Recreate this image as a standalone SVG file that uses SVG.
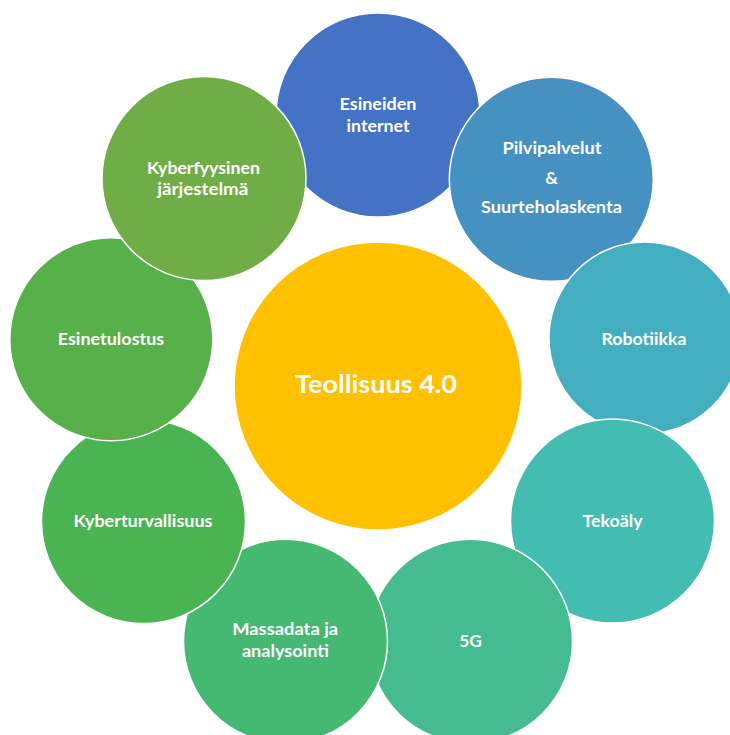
<svg xmlns="http://www.w3.org/2000/svg" width="730" height="735" viewBox="0 0 730 735">
<style>
.c{stroke:#ffffff;stroke-width:1.5}
.t{font-family:Lato,"Open Sans","Liberation Sans",sans-serif;font-weight:bold;fill:#ffffff;text-anchor:middle;font-size:17.5px}
.big{font-size:25px}
</style>
<rect width="730" height="735" fill="#ffffff"/>
<g id="node-teollisuus">
<circle class="c" cx="378" cy="386" r="144" fill="#FFC000"/>
<text class="t big" x="376" y="393" textLength="162" lengthAdjust="spacingAndGlyphs">Teollisuus 4.0</text>
</g>
<g id="node-esineiden">
<circle class="c" cx="378" cy="115" r="102" fill="#4472C4"/>
<text class="t" x="378" y="110" textLength="77" lengthAdjust="spacingAndGlyphs">Esineiden</text>
<text class="t" x="378" y="131.5" textLength="63" lengthAdjust="spacingAndGlyphs">internet</text>
</g>
<g id="node-pilvipalvelut">
<circle class="c" cx="551.3" cy="179.3" r="102" fill="#4591C2"/>
<text class="t" x="552" y="154" textLength="99" lengthAdjust="spacingAndGlyphs">Pilvipalvelut</text>
<text class="t" x="551.5" y="184.3">&amp;</text>
<text class="t" x="551.5" y="213.3" textLength="141" lengthAdjust="spacingAndGlyphs">Suurteholaskenta</text>
</g>
<g id="node-robotiikka">
<circle class="c" cx="645" cy="338" r="96" fill="#43AEC0"/>
<text class="t" x="644" y="345" textLength="85" lengthAdjust="spacingAndGlyphs">Robotiikka</text>
</g>
<g id="node-tekoaly">
<circle class="c" cx="612.5" cy="521" r="102" fill="#43BDB1"/>
<text class="t" x="612.5" y="526.7" textLength="60" lengthAdjust="spacingAndGlyphs">Tekoäly</text>
</g>
<g id="node-5g">
<circle class="c" cx="470.5" cy="641.3" r="102" fill="#45BC8F"/>
<text class="t" x="470.5" y="646.7" textLength="22.5" lengthAdjust="spacingAndGlyphs">5G</text>
</g>
<g id="node-massadata">
<circle class="c" cx="285.5" cy="641.3" r="102" fill="#45B872"/>
<text class="t" x="285.2" y="635" textLength="106" lengthAdjust="spacingAndGlyphs">Massadata ja</text>
<text class="t" x="285.4" y="656.7" textLength="87" lengthAdjust="spacingAndGlyphs">analysointi</text>
</g>
<g id="node-kyberturvallisuus">
<circle class="c" cx="143.5" cy="521.5" r="102" fill="#4AB453"/>
<text class="t" x="143" y="526.7" textLength="139" lengthAdjust="spacingAndGlyphs">Kyberturvallisuus</text>
</g>
<g id="node-esinetulostus">
<circle class="c" cx="111.3" cy="339.3" r="101.5" fill="#57B04A"/>
<text class="t" x="111" y="345" textLength="106.5" lengthAdjust="spacingAndGlyphs">Esinetulostus</text>
</g>
<g id="node-kyberfyysinen">
<circle class="c" cx="204" cy="178.5" r="102" fill="#70AD47"/>
<text class="t" x="203.4" y="174" textLength="113" lengthAdjust="spacingAndGlyphs">Kyberfyysinen</text>
<text class="t" x="202.8" y="194.5" textLength="91" lengthAdjust="spacingAndGlyphs">järjestelmä</text>
</g>
<g id="connectors"></g>
</svg>
